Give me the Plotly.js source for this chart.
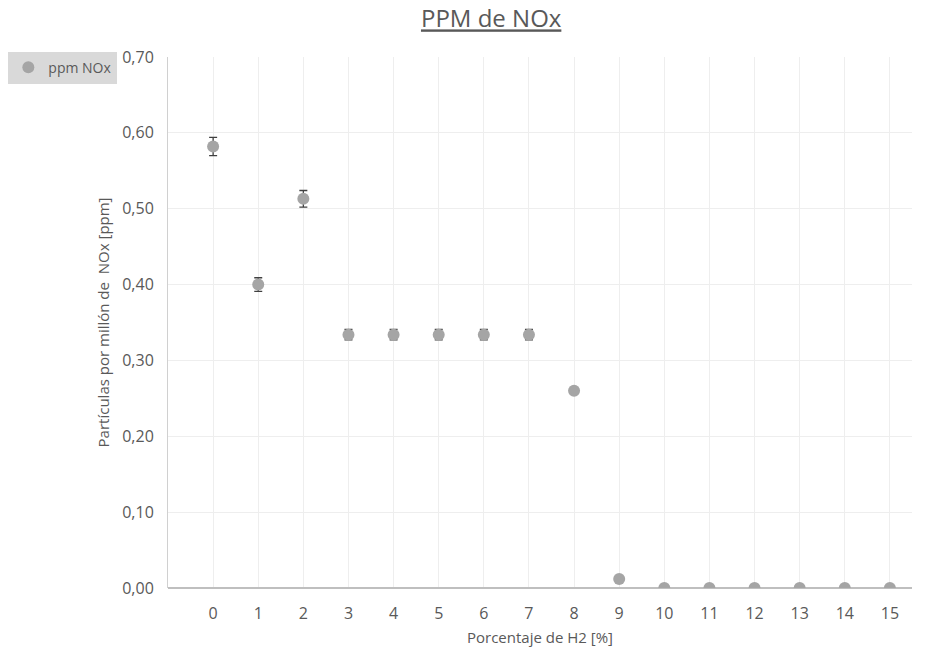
<!DOCTYPE html>
<html><head><meta charset="utf-8">
<script src="https://cdn.plot.ly/plotly-3.0.1.min.js"></script>
<style>body{margin:0}#c{width:925px;height:655px}</style>
</head><body><div id="c"></div>
<script>
const categories = [0,1,2,3,4,5,6,7,8,9,10,11,12,13,14,15];
const ppmNOx = [0.582,0.400,0.513,0.334,0.334,0.334,0.334,0.334,0.260,0.012,0,0,0,0,0,0];
const errNOx = [0.012,0.009,0.011,0.007,0.007,0.007,0.007,0.007,0.003,0,0,0,0,0,0,0];
const yTicks = [0,0.1,0.2,0.3,0.4,0.5,0.6,0.7];
const yTickText = ['0,00','0,10','0,20','0,30','0,40','0,50','0,60','0,70'];
const yTitle = 'Partículas por millón de\u00a0 NOx [ppm]';

const font = "'Segoe UI', 'Open Sans', 'Noto Sans', sans-serif";
const trace = {
  x: categories, y: ppmNOx, type: 'scatter', mode: 'markers', name: 'ppm NOx',
  marker: {color: '#a5a5a5', size: 12},
  error_y: {type: 'data', array: errNOx, visible: true, color: '#404040', thickness: 1.3, width: 4}
};
const layout = {
  width: 925, height: 655,
  margin: {l: 168, r: 13, t: 57, b: 67, autoexpand: false},
  paper_bgcolor: '#ffffff', plot_bgcolor: '#ffffff',
  font: {family: font, color: '#595959', size: 15},
  title: {text: '<u>PPM de NOx</u>', x: 0.531, xanchor: 'center', y: 0.971, yanchor: 'middle',
          font: {size: 24, color: '#595959', family: font}},
  showlegend: true,
  legend: {xref: 'container', yref: 'container', x: 0.009, y: 0.921, xanchor: 'left', yanchor: 'top',
           bgcolor: '#d9d9d9', font: {size: 14, color: '#595959'}, itemwidth: 30},
  xaxis: {
    range: [-1, 15.49], tickvals: categories, ticktext: categories.map(String),
    showgrid: true, gridcolor: '#eeeeee', zeroline: false, showline: false, automargin: false,
    ticks: '', ticklabelstandoff: 14, tickfont: {size: 16, color: '#595959'},
    title: {text: 'Porcentaje de H2 [%]', font: {size: 15, color: '#595959'}}
  },
  yaxis: {
    range: [0, 0.7], tickvals: yTicks, ticktext: yTickText, automargin: false,
    showgrid: true, gridcolor: '#eeeeee', zeroline: true, zerolinecolor: '#bfbfbf', zerolinewidth: 1.5,
    showline: true, linecolor: '#d0d0d0', linewidth: 1, ticks: '', ticklen: 0,
    ticklabelstandoff: 10, tickfont: {size: 16, color: '#595959'}
  },
  annotations: [{
    text: yTitle, xref: 'paper', yref: 'paper', x: -0.0875, y: 0.5,
    xanchor: 'center', yanchor: 'middle', textangle: -90, showarrow: false,
    font: {size: 15, color: '#595959', family: font}
  }]
};
Plotly.newPlot('c', [trace], layout, {displayModeBar: false});
</script></body></html>
